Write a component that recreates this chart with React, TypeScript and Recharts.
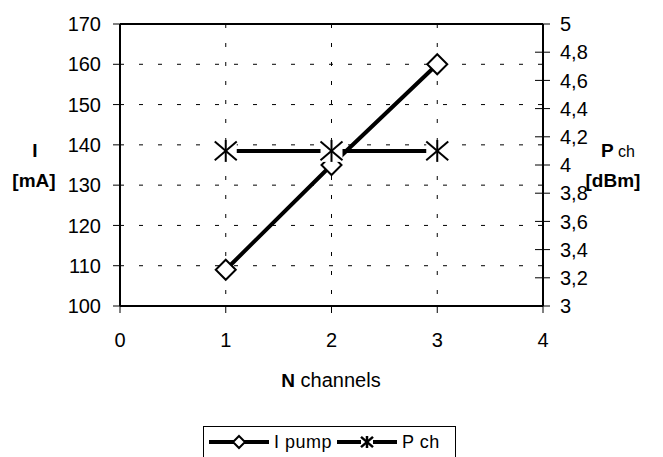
import React from 'react';
import { LineChart, Line, XAxis, YAxis, CartesianGrid, ReferenceLine, Legend } from 'recharts';

const channels = [1, 2, 3];
const iPump = [109, 135, 160];
const pCh = [4.1, 4.1, 4.1];

const xTicks = [0, 1, 2, 3, 4];
const leftTicks = [100, 110, 120, 130, 140, 150, 160, 170];
const rightTicks = [3, 3.2, 3.4, 3.6, 3.8, 4, 4.2, 4.4, 4.6, 4.8, 5];

const data = channels.map((n, i) => ({ n, iPump: iPump[i], pCh: pCh[i] }));

const FONT = '"Liberation Sans", Arial, sans-serif';

const Diamond = ({ cx, cy, r = 10, sw = 2 }: any) => (
  <path
    d={`M${cx},${cy - r} L${cx + r},${cy} L${cx},${cy + r} L${cx - r},${cy} Z`}
    fill="#fff"
    stroke="#000"
    strokeWidth={sw}
  />
);

const Star = ({ cx, cy, r = 11, sw = 2, bg = true }: any) => (
  <g>
    {bg && <rect x={cx - r} y={cy - r} width={2 * r} height={2 * r} fill="#fff" />}
    <line x1={cx} y1={cy - r} x2={cx} y2={cy + r} stroke="#000" strokeWidth={sw} />
    <line x1={cx - r} y1={cy - r * 0.85} x2={cx + r} y2={cy + r * 0.85} stroke="#000" strokeWidth={sw} />
    <line x1={cx - r} y1={cy + r * 0.85} x2={cx + r} y2={cy - r * 0.85} stroke="#000" strokeWidth={sw} />
  </g>
);

const fmtComma = (v: number) => String(Math.round(v * 10) / 10).replace('.', ',');

const RightTick = (props: any) => {
  const { x, y, payload } = props;
  return (
    <g>
      <line x1={x - 17 - 8} x2={x - 17} y1={y} y2={y} stroke="#000" strokeWidth={1} />
      <text x={x} y={y} dy="0.355em" textAnchor="start" fontSize={20} fontFamily={FONT} fill="#000">
        {fmtComma(payload.value)}
      </text>
    </g>
  );
};

const LeftTitle = () => (
  <g fontFamily={FONT} fill="#000">
    <text x={35} y={157} textAnchor="middle" fontWeight="bold" fontSize={19}>I</text>
    <text x={34} y={187} textAnchor="middle" fontWeight="bold" fontSize={19}>[mA]</text>
  </g>
);

const RightTitle = () => (
  <g fontFamily={FONT} fill="#000">
    <text x={618} y={157} textAnchor="middle">
      <tspan fontWeight="bold" fontSize={19}>P</tspan>
      <tspan fontSize={16}> ch</tspan>
    </text>
    <text x={613} y={187} textAnchor="middle" fontWeight="bold" fontSize={19}>[dBm]</text>
  </g>
);

const XTitle = () => (
  <text x={331} y={387} textAnchor="middle" fontFamily={FONT} fill="#000">
    <tspan fontWeight="bold" fontSize={19}>N</tspan>
    <tspan fontSize={20}> channels</tspan>
  </text>
);

const LegendBox = () => (
  <div
    style={{
      boxSizing: 'border-box',
      width: 253,
      height: 31,
      borderTop: '1px solid #000',
      borderLeft: '1px solid #000',
      borderRight: '1px solid #000',
      display: 'flex',
      alignItems: 'center',
      fontFamily: FONT,
      fontSize: 18,
      color: '#000',
      paddingLeft: 4,
      letterSpacing: 0.5,
    }}
  >
    <svg width={62} height={20} style={{ display: 'block' }}>
      <line x1={1} y1={10} x2={61} y2={10} stroke="#000" strokeWidth={4} />
      <Diamond cx={31} cy={10} r={6} sw={2} />
    </svg>
    <span style={{ marginLeft: 4, marginRight: 4 }}>I pump</span>
    <svg width={62} height={20} style={{ display: 'block' }}>
      <line x1={1} y1={10} x2={61} y2={10} stroke="#000" strokeWidth={4} />
      <Star cx={31} cy={10} r={6} sw={2.5} bg={true} />
    </svg>
    <span style={{ marginLeft: 4 }}>P ch</span>
  </div>
);

export default function App() {
  return (
    <div style={{ position: 'absolute', left: 0, top: 0, width: 663, height: 457, background: '#fff' }}>
      <LineChart width={663} height={457} data={data} margin={{ top: 24, right: 0, bottom: 0, left: 0 }}>
        <CartesianGrid yAxisId="left" stroke="#000" strokeWidth={1} strokeDasharray="4 15" />
        <XAxis
          dataKey="n"
          type="number"
          domain={[0, 4]}
          ticks={xTicks}
          height={120}
          axisLine={{ stroke: '#000', strokeWidth: 2 }}
          tickLine={{ stroke: '#000', strokeWidth: 1 }}
          tickSize={7}
          tickMargin={20}
          tick={{ fontSize: 20, fill: '#000', fontFamily: FONT }}
          label={<XTitle />}
        />
        <YAxis
          yAxisId="left"
          domain={[100, 170]}
          ticks={leftTicks}
          width={120}
          axisLine={{ stroke: '#000', strokeWidth: 2 }}
          tickLine={{ stroke: '#000', strokeWidth: 1 }}
          tickSize={7}
          tickMargin={12}
          tick={{ fontSize: 20, fill: '#000', fontFamily: FONT }}
          label={<LeftTitle />}
        />
        <YAxis
          yAxisId="right"
          orientation="right"
          domain={[3, 5]}
          ticks={rightTicks}
          width={120}
          axisLine={{ stroke: '#000', strokeWidth: 2 }}
          tickLine={{ stroke: '#000', strokeWidth: 1 }}
          tickSize={7}
          tickMargin={10}
          tick={<RightTick />}
          label={<RightTitle />}
        />
        <ReferenceLine yAxisId="left" y={170} stroke="#000" strokeWidth={2} />
        <Legend verticalAlign="bottom" height={31} content={<LegendBox />} wrapperStyle={{ left: 203, top: 426, width: 253, height: 31 }} />
        <Line
          yAxisId="left"
          dataKey="iPump"
          stroke="#000"
          strokeWidth={4}
          isAnimationActive={false}
          activeDot={false}
          dot={(p: any) => <Diamond key={`d${p.index}`} cx={p.cx} cy={p.cy} />}
        />
        <Line
          yAxisId="right"
          dataKey="pCh"
          stroke="#000"
          strokeWidth={4}
          isAnimationActive={false}
          activeDot={false}
          dot={(p: any) => <Star key={`s${p.index}`} cx={p.cx} cy={p.cy} />}
        />
      </LineChart>
    </div>
  );
}
